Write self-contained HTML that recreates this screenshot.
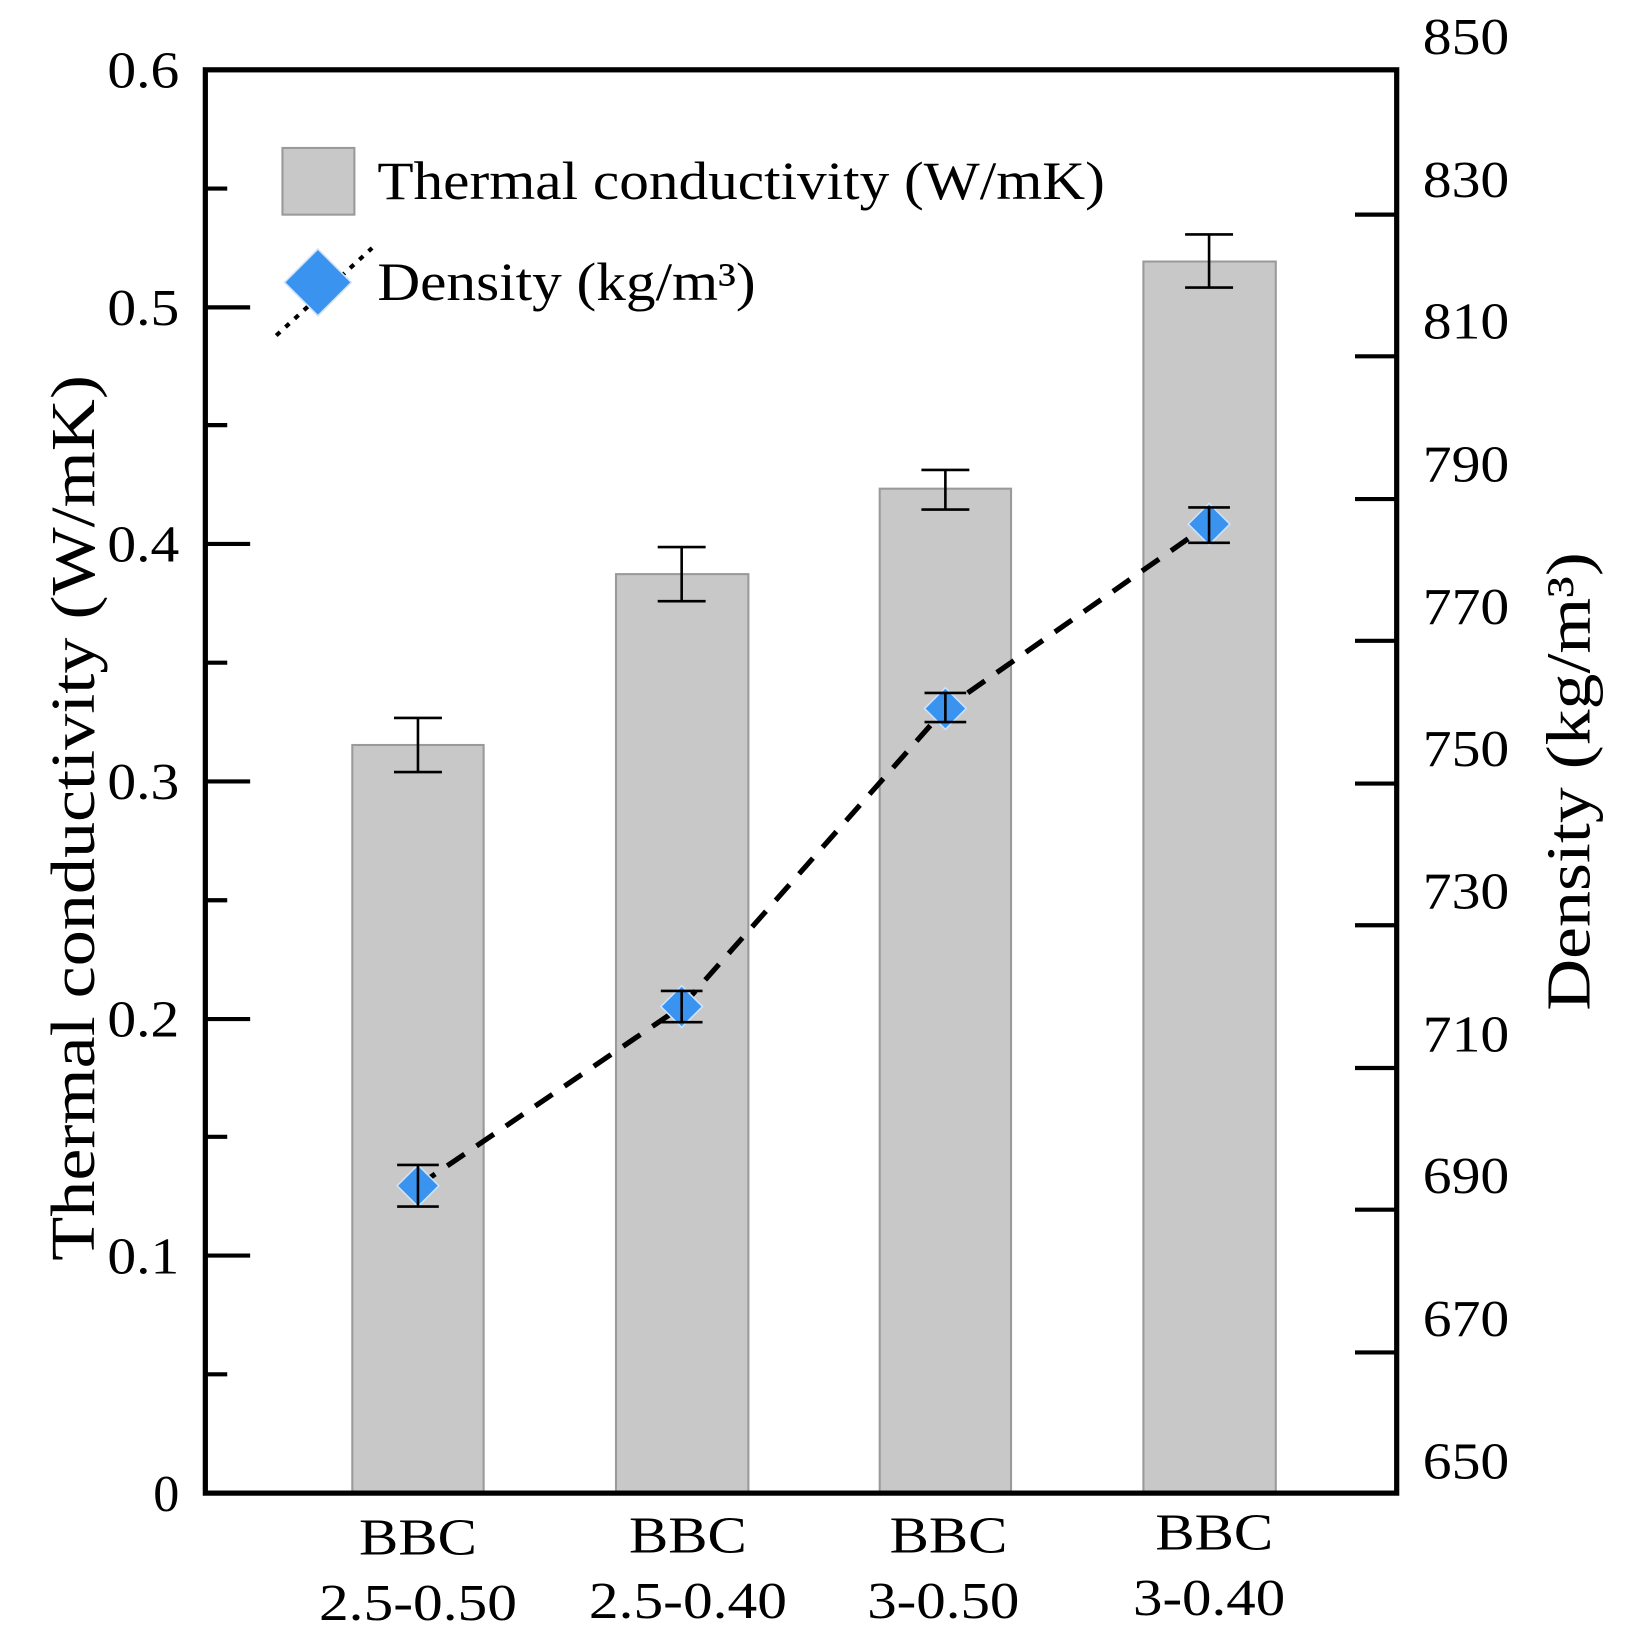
<!DOCTYPE html>
<html><head><style>html,body{margin:0;padding:0;background:#fff}svg{display:block}</style></head><body>
<svg width="1626" height="1639" viewBox="0 0 1560 1573" preserveAspectRatio="none" font-family="Liberation Serif, serif">
<g fill="#c8c8c8" stroke="#9a9a9a" stroke-width="2">
<rect x="338" y="715" width="126" height="718"/>
<rect x="591" y="551" width="127" height="882"/>
<rect x="844" y="469" width="126" height="964"/>
<rect x="1097" y="251" width="127" height="1182"/>
<rect x="271" y="142" width="69" height="64"/>
</g>
<g stroke="#000" stroke-width="2.5" fill="none">
<path d="M401 689V741M378 689H424M378 741H424"/>
<path d="M654 525V577M631 525H677M631 577H677"/>
<path d="M907 451V489M884 451H930M884 489H930"/>
<path d="M1160 225V276M1137 225H1183M1137 276H1183"/>
</g>
<polyline points="401,1138 654,966 907,680 1160,503" fill="none" stroke="#000" stroke-width="5" stroke-dasharray="20 14"/>
<line x1="265" y1="322" x2="357" y2="238" stroke="#000" stroke-width="4" stroke-dasharray="5 7"/>
<g fill="#3b93f0" stroke="#cfe3fa" stroke-width="1.5">
<path d="M401 1118L421 1138L401 1158L381 1138Z"/>
<path d="M654 946L674 966L654 986L634 966Z"/>
<path d="M907 660L927 680L907 700L887 680Z"/>
<path d="M1160 483L1180 503L1160 523L1140 503Z"/>
<path d="M305 239L337 271L305 303L273 271Z"/>
</g>
<g stroke="#000" stroke-width="2.5">
<path d="M401 1118V1158M381 1118H421M381 1158H421"/>
<path d="M654 951V981M634 951H674M634 981H674"/>
<path d="M907 665V693M887 665H927M887 693H927"/>
<path d="M1160 487V521M1140 487H1180M1140 521H1180"/>
</g>
<rect x="197" y="67" width="1143" height="1366" fill="none" stroke="#000" stroke-width="5"/>
<g stroke="#000" stroke-width="4">
<path d="M197 1205H240M197 978H240M197 750H240M197 522H240M197 295H240M197 1319H218M197 1091H218M197 864H218M197 636H218M197 408H218M197 181H218"/>
<path d="M1340 206H1300M1340 342H1300M1340 479H1300M1340 615H1300M1340 752H1300M1340 888H1300M1340 1025H1300M1340 1161H1300M1340 1298H1300"/>
</g>
<g font-size="50" fill="#000" lengthAdjust="spacingAndGlyphs">
<text x="103" y="84" textLength="69" lengthAdjust="spacingAndGlyphs">0.6</text>
<text x="103" y="312" textLength="69" lengthAdjust="spacingAndGlyphs">0.5</text>
<text x="103" y="539" textLength="69" lengthAdjust="spacingAndGlyphs">0.4</text>
<text x="103" y="767" textLength="69" lengthAdjust="spacingAndGlyphs">0.3</text>
<text x="103" y="995" textLength="69" lengthAdjust="spacingAndGlyphs">0.2</text>
<text x="103" y="1222" textLength="69" lengthAdjust="spacingAndGlyphs">0.1</text>
<text x="147" y="1450" textLength="25" lengthAdjust="spacingAndGlyphs">0</text>
</g>
<g font-size="50" fill="#000">
<text x="1365" y="52" textLength="83" lengthAdjust="spacingAndGlyphs">850</text>
<text x="1365" y="189" textLength="83" lengthAdjust="spacingAndGlyphs">830</text>
<text x="1365" y="325" textLength="83" lengthAdjust="spacingAndGlyphs">810</text>
<text x="1365" y="462" textLength="83" lengthAdjust="spacingAndGlyphs">790</text>
<text x="1365" y="599" textLength="83" lengthAdjust="spacingAndGlyphs">770</text>
<text x="1365" y="735" textLength="83" lengthAdjust="spacingAndGlyphs">750</text>
<text x="1365" y="872" textLength="83" lengthAdjust="spacingAndGlyphs">730</text>
<text x="1365" y="1009" textLength="83" lengthAdjust="spacingAndGlyphs">710</text>
<text x="1365" y="1145" textLength="83" lengthAdjust="spacingAndGlyphs">690</text>
<text x="1365" y="1282" textLength="83" lengthAdjust="spacingAndGlyphs">670</text>
<text x="1365" y="1419" textLength="83" lengthAdjust="spacingAndGlyphs">650</text>
</g>
<g font-size="50" text-anchor="middle" fill="#000">
<text x="401" y="1492" textLength="113" lengthAdjust="spacingAndGlyphs">BBC</text><text x="401" y="1555" textLength="190" lengthAdjust="spacingAndGlyphs">2.5-0.50</text>
<text x="660" y="1490" textLength="113" lengthAdjust="spacingAndGlyphs">BBC</text><text x="660" y="1553" textLength="190" lengthAdjust="spacingAndGlyphs">2.5-0.40</text>
<text x="910" y="1490" textLength="113" lengthAdjust="spacingAndGlyphs">BBC</text><text x="905" y="1553" textLength="146" lengthAdjust="spacingAndGlyphs">3-0.50</text>
<text x="1165" y="1487" textLength="113" lengthAdjust="spacingAndGlyphs">BBC</text><text x="1160" y="1550" textLength="146" lengthAdjust="spacingAndGlyphs">3-0.40</text>
</g>
<text x="362" y="191" font-size="52" textLength="698" lengthAdjust="spacingAndGlyphs">Thermal conductivity (W/mK)</text>
<text x="362" y="288" font-size="52" textLength="363" lengthAdjust="spacingAndGlyphs">Density (kg/m³)</text>
<text transform="translate(90,785) rotate(-90)" font-size="60" text-anchor="middle" textLength="850" lengthAdjust="spacingAndGlyphs">Thermal conductivity (W/mK)</text>
<text transform="translate(1525,750) rotate(-90)" font-size="60" text-anchor="middle" textLength="440" lengthAdjust="spacingAndGlyphs">Density (kg/m³)</text>
</svg>
</body></html>
